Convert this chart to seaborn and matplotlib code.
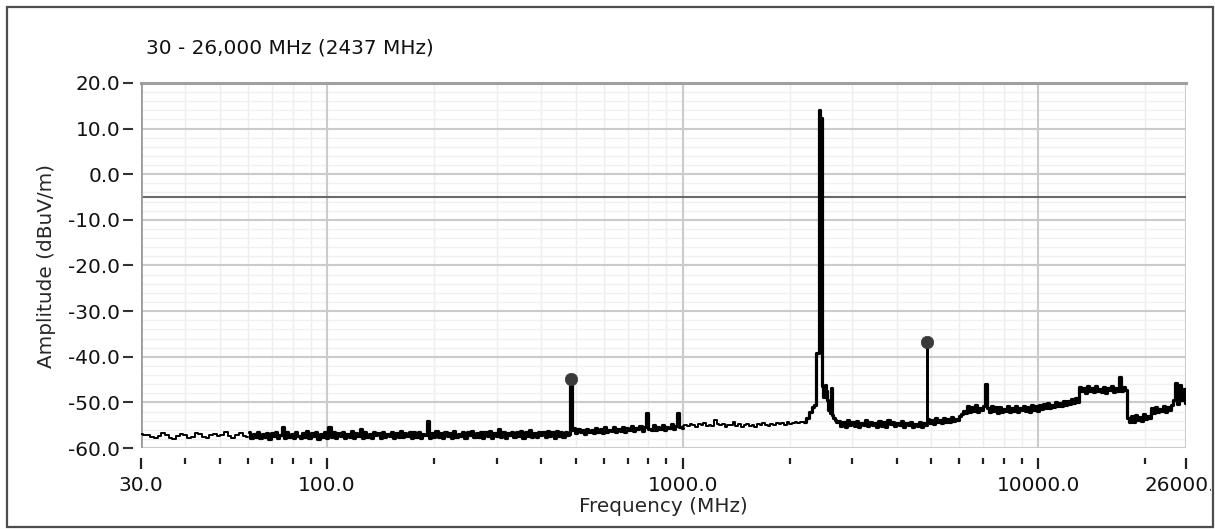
import numpy as np
import pandas as pd
import matplotlib
matplotlib.use("Agg")
import matplotlib.pyplot as plt
from matplotlib.patches import Rectangle
from matplotlib.ticker import FixedLocator, FixedFormatter, NullFormatter, NullLocator
from matplotlib.transforms import Bbox, TransformedBbox
import seaborn as sns

# ---------------------------------------------------------------------------
# Spectrum readings (dBuV/m).  Each sweep band lists its start/stop frequency
# (MHz) and the readings taken across it; the analyser steps evenly on a log
# frequency grid inside each band.
# ---------------------------------------------------------------------------
band1_span = (30.0, 60.0)
band1_amp = [-57.0, -57.2, -57.1, -57.6, -57.9, -57.3, -56.8, -57.1, -57.7, -58.1,
             -57.4, -56.9, -57.2, -57.8, -57.5, -56.7, -57.0, -57.6, -57.9, -57.2,
             -56.9, -57.4, -57.1, -56.6, -57.3, -57.8, -57.2, -56.8, -57.3, -57.6]

band2_span = (60.5, 476.0)
band2_amp = [-56.6, -57.8, -56.9, -57.6, -56.5, -57.9, -57.0, -57.5, -56.7, -58.0, -56.8, -57.4,
             -56.4, -57.7, -57.1, -55.5, -57.9, -56.6, -57.5, -56.9, -57.8, -56.5, -57.3, -57.9,
             -56.7, -57.6, -56.3, -57.8, -56.8, -57.4, -56.5, -58.1, -56.9, -57.5, -56.4, -57.7,
             -55.4, -57.6, -56.6, -57.9, -56.8, -57.3, -56.5, -57.8, -56.9, -57.5, -56.3, -57.7,
             -56.7, -57.4, -55.8, -57.9, -56.6, -57.5, -56.9, -57.7, -56.4, -57.2, -56.8, -57.9,
             -56.5, -57.6, -56.9, -57.3, -56.4, -57.8, -56.7, -57.5, -56.2, -57.6, -56.8, -57.4,
             -56.5, -57.9, -56.6, -57.5, -56.6, -57.7, -56.9, -57.2, -54.0, -57.8, -56.7, -57.5,
             -56.3, -57.6, -56.8, -57.9, -56.5, -57.3, -56.7, -57.7, -56.2, -57.5, -56.9, -57.4,
             -56.4, -57.8, -56.6, -57.2, -56.3, -57.6, -56.8, -57.5, -56.5, -57.9, -56.6, -57.3,
             -56.2, -57.7, -56.7, -57.4, -55.9, -57.6, -56.5, -57.8, -56.8, -57.2, -56.4, -57.5,
             -56.6, -57.3, -56.3, -57.7, -56.5, -57.4, -56.1, -57.6, -56.7, -57.5, -56.4, -57.2,
             -56.5, -57.6, -56.2, -57.4, -56.6, -57.8, -56.3, -57.3, -56.5, -57.5, -56.4, -57.1]

spur1_freq = [480.0, 485.0, 490.0]
spur1_amp = [-56.9, -44.9, -56.0]

band3_span = (495.0, 1000.0)
band3_amp = [-55.7, -56.8, -55.9, -56.6, -56.0, -56.9, -55.8, -56.5, -56.1, -56.7, -55.6, -56.4,
             -55.9, -56.7, -55.5, -56.5, -56.0, -56.3, -55.4, -56.6, -55.8, -56.2, -55.3, -56.4,
             -55.7, -56.1, -55.2, -56.3, -55.6, -55.9, -55.1, -56.2, -55.5, -52.4, -55.8, -56.0,
             -55.0, -56.1, -55.4, -55.8, -54.9, -56.0, -55.3, -55.7, -54.8, -55.9, -55.2, -52.3,
             -55.5, -55.6]

band4_span = (1002.0, 2195.0)
band4_amp = [-55.2, -54.9, -55.1, -54.7, -55.0, -55.3, -54.8, -55.0, -54.6, -55.1,
             -54.9, -55.2, -53.9, -54.8, -55.0, -54.7, -55.3, -54.9, -55.0, -54.4,
             -55.2, -54.8, -55.4, -55.0, -54.7, -55.1, -54.9, -55.3, -54.8, -55.0,
             -54.6, -54.9, -55.1, -54.7, -54.9, -54.5, -54.8, -54.6, -54.9, -54.4,
             -54.7, -54.5, -54.3, -54.6, -54.2, -54.4]

# carrier at 2437 MHz with its close-in skirt
carrier_freq = [2200, 2250, 2290, 2330, 2360, 2385, 2405, 2420, 2432, 2445, 2458, 2475,
                2495, 2515, 2535, 2555, 2580, 2605, 2625, 2640, 2660, 2690, 2720]
carrier_amp = [-54.3, -53.4, -52.2, -51.0, -50.5, -39.1, -39.1, 14.1, 14.1, 12.3, 12.3, -46.4,
               -48.8, -46.3, -47.6, -49.5, -51.6, -52.3, -46.8, -52.8, -53.5, -53.9, -54.3]

band6_span = (2750.0, 4850.0)
band6_amp = [-54.0, -55.1, -54.3, -55.3, -53.9, -54.9, -54.4, -55.2, -54.1, -55.4,
             -54.5, -55.0, -53.8, -55.2, -54.3, -54.9, -54.6, -55.5, -54.0, -55.1,
             -54.4, -55.3, -53.9, -54.8, -54.2, -55.2, -54.6, -55.0, -54.1, -55.4,
             -54.5, -54.9, -54.3, -55.3, -54.7, -55.1, -54.2, -55.4, -54.6, -55.0]

spur2_freq = [4862.0, 4874.0, 4886.0]
spur2_amp = [-54.9, -36.8, -54.3]

band7_span = (4898.0, 26000.0)
band7_amp = [-53.6, -54.5, -53.8, -54.7, -53.5, -54.3, -53.9, -54.6, -53.4, -54.4, -53.7, -54.2,
             -53.3, -54.1, -53.6, -53.9,
             -53.0, -52.6, -51.9, -52.4,
             -50.9, -52.1, -51.0, -51.8, -50.6, -52.0, -51.2, -51.7, -50.8, -46.0, -51.3, -52.2,
             -50.7, -51.9, -51.1, -52.3,
             -51.0, -52.1, -51.4, -51.9, -50.9, -52.2, -51.3, -51.8, -50.8, -52.0, -51.2, -51.7,
             -50.7, -51.9, -51.0, -52.1, -50.6, -51.6, -50.9, -51.8,
             -50.6, -51.5, -50.4, -51.3, -50.2, -51.2, -50.5, -51.0, -49.9, -50.9, -50.1, -50.7,
             -49.6, -50.5, -49.8, -50.3, -49.3, -50.2, -49.0, -49.9,
             -46.6, -47.6, -46.8, -47.9, -46.5, -47.4, -46.9, -47.8, -46.4, -47.5, -47.0, -47.7,
             -46.6, -47.9, -46.8, -47.3, -46.5, -47.8, -46.9, -47.4, -44.4, -47.6, -46.7, -47.2,
             -53.5, -54.4,
             -53.0, -54.2, -52.8, -53.9, -53.2, -54.0, -52.6, -53.7, -52.9, -53.5,
             -51.2, -52.3, -51.0, -52.1, -51.4, -51.9, -50.8, -52.2, -51.1, -51.7, -50.6,
             -49.4, -45.8, -50.3, -46.3, -49.5, -47.0, -50.1]

# peak markers and the limit line
marker_freq = [485.0, 4874.0]
marker_amp = [-44.9, -36.8]
limit_db = -5.0

# axes
x_ticks = [30, 100, 1000, 10000, 26000]
x_tick_labels = ["30.0", "100.0", "1000.0", "10000.0", "26000.0"]
y_ticks = [20, 10, 0, -10, -20, -30, -40, -50, -60]
y_tick_labels = ["20.0", "10.0", "0.0", "-10.0", "-20.0", "-30.0", "-40.0", "-50.0", "-60.0"]
title_text = "30 - 26,000 MHz (2437 MHz)"


def sweep(span, amps):
    return np.geomspace(span[0], span[1], len(amps))


# sparse sweeps (few points per pixel) render as a fine trace, the rest as a dense one
segments = [
    ("fine", sweep(band1_span, band1_amp), band1_amp),
    ("dense", np.concatenate([sweep(band2_span, band2_amp), spur1_freq,
                              sweep(band3_span, band3_amp)]),
     band2_amp + spur1_amp + band3_amp),
    ("fine", sweep(band4_span, band4_amp), band4_amp),
    ("dense", np.concatenate([carrier_freq, sweep(band6_span, band6_amp)]),
     carrier_amp + band6_amp),
    ("fine", np.asarray(spur2_freq), spur2_amp),
    ("dense", sweep(band7_span, band7_amp), band7_amp),
]
trace = pd.concat([
    pd.DataFrame({"freq": f, "amp": a, "density": d, "segment": i})
    for i, (d, f, a) in enumerate(segments)
], ignore_index=True)

sns.set_style("white")
plt.rcParams["font.family"] = ["DejaVu Sans"]
plt.rcParams["text.color"] = "#111111"

W, H = 1215, 529
fig = plt.figure(figsize=(W / 100, H / 100), dpi=100)
fig.patch.set_facecolor("white")
ax = fig.add_axes([141 / W, (H - 448) / H, 1045 / W, 365 / H])
ax.set_xscale("log")
ax.set_xlim(x_ticks[0], x_ticks[-1])
ax.set_ylim(y_ticks[-1], y_ticks[0])

# ticks and grid: major grid from the axes, faint minor grid underneath it
minor_x = [m * d for d in (10, 100, 1000, 10000) for m in range(2, 10)
           if x_ticks[0] < m * d < x_ticks[-1]]
minor_y = [v for v in range(y_ticks[-1], y_ticks[0] + 1, 2) if v not in y_ticks]
ax.xaxis.set_major_locator(FixedLocator(x_ticks))
ax.xaxis.set_major_formatter(FixedFormatter(x_tick_labels))
ax.xaxis.set_minor_locator(FixedLocator(minor_x))
ax.xaxis.set_minor_formatter(NullFormatter())
ax.yaxis.set_major_locator(FixedLocator(y_ticks))
ax.yaxis.set_major_formatter(FixedFormatter(y_tick_labels))
ax.yaxis.set_minor_locator(NullLocator())
ax.set_axisbelow(True)
ax.grid(True, which="major", color="#cbcbcb", lw=1.5)
ax.grid(False, which="minor")
for v in minor_x:
    ax.axvline(v, color="#eeeeee", lw=1.0, zorder=0.1)
for v in minor_y:
    ax.axhline(v, color="#f0f0f0", lw=1.0, zorder=0.1)

# spectrum trace
sns.lineplot(data=trace, x="freq", y="amp", units="segment", size="density",
             sizes={"fine": 1.4, "dense": 2.3}, ax=ax, color="black",
             drawstyle="steps-mid", estimator=None, sort=False, legend=False, zorder=3)
ax.axhline(limit_db, color="#6a6a6a", lw=1.5, zorder=2.6)
sns.scatterplot(x=marker_freq, y=marker_amp, ax=ax, color="#3a3a3a", s=80,
                edgecolor="#3a3a3a", linewidth=0.5, zorder=4, legend=False)

# frame of the plot area
ax.spines["right"].set_visible(False)
ax.spines["top"].set_color("#a0a0a0")
ax.spines["top"].set_linewidth(2.2)
ax.spines["left"].set_position(("outward", 6))
ax.spines["left"].set_visible(False)
ax.spines["bottom"].set_position(("outward", 7))
ax.spines["bottom"].set_visible(False)
ax.axvline(ax.get_xlim()[0], color="#9c9c9c", lw=2.0, zorder=2.7)

ax.tick_params(axis="both", which="both", bottom=True, left=True, top=False, right=False)
ax.tick_params(axis="y", which="major", direction="out", length=7, width=1.5,
               color="#333333", pad=2, labelsize=14.4, labelcolor="#111111")
ax.tick_params(axis="x", which="major", direction="out", length=8, width=1.6,
               color="#222222", pad=5, labelsize=14.4, labelcolor="#111111")
ax.tick_params(axis="x", which="minor", direction="out", length=4, width=1.6,
               color="#222222")

ax.set_xlabel("Frequency (MHz)", fontsize=14.4)
ax.xaxis.set_label_coords(0.5, -0.1745)
ax.xaxis.label.set_va("baseline")
ax.set_ylabel("Amplitude (dBuV/m)", fontsize=14.4)
ax.yaxis.set_label_coords((47 - 141) / 1045, 0.5)
ax.yaxis.label.set_va("center")

fig.text(146 / W, 1 - 54 / H, title_text, fontsize=14.4, ha="left", va="baseline")

# outer panel border; the last tick label runs under it
fig.add_artist(Rectangle((7 / W, 2 / H), 1206 / W, 520 / H, transform=fig.transFigure,
                         fill=False, edgecolor="#4d4d4d", lw=1.6, zorder=10))
clip = TransformedBbox(Bbox([[0, 0], [1211 / W, 1]]), fig.transFigure)
last = ax.get_xticklabels()[-1]
last.set_clip_on(True)
last.set_clip_box(clip)

fig.savefig("out.png", dpi=100)
